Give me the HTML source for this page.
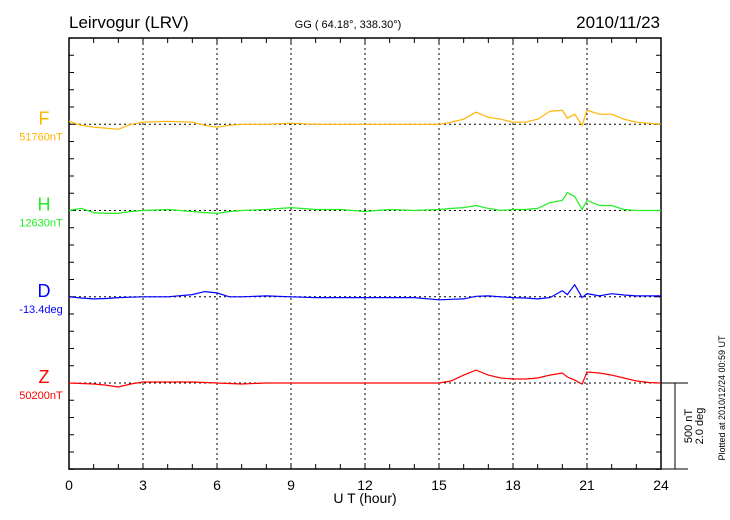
<!DOCTYPE html>
<html><head><meta charset="utf-8"><style>
body{margin:0;background:#fff;}
svg{display:block;font-family:"Liberation Sans",sans-serif;}
</style></head><body>
<svg id="chart" width="730" height="520"></svg>
<script>
const hours=[0,0.5,1,1.5,2,2.5,3,4,5,5.5,6,6.5,7,8,9,10,11,12,13,14,15,15.5,16,16.5,17,17.5,18,18.5,19,19.5,20,20.2,20.5,20.8,21,21.5,22,22.5,23,23.5,24];
const fVals=[17,-6,-17,-23,-29,0,12,17,12,-6,-17,-6,0,0,6,0,0,0,0,0,0,12,29,70,40,29,12,12,29,75,81,35,58,-6,81,58,58,29,12,6,0];
const hVals=[0,12,-12,-17,-17,-6,0,6,-6,-12,-17,-6,0,6,17,6,6,-6,6,0,6,12,17,29,12,0,6,6,12,46,58,104,81,6,58,29,29,6,0,0,0];
const dVals=[0,-0.03,-0.05,-0.04,-0.02,-0.01,0,0,0.05,0.12,0.09,0,0,0.02,0,-0.02,-0.02,-0.02,-0.02,-0.02,-0.07,-0.06,-0.05,0.01,0.02,0,-0.02,-0.03,-0.05,-0.02,0.14,0.05,0.28,-0.02,0.07,0.02,0.07,0.04,0.02,0.02,0.02];
const zVals=[0,-3,-6,-12,-23,-6,6,6,6,3,0,-3,-6,0,0,0,0,0,0,0,0,12,46,75,46,29,23,23,29,46,58,35,17,-6,64,58,46,29,12,3,0];
const xTicks=[0,3,6,9,12,15,18,21,24];
const series=[
 {name:'F',vals:fVals,col:'#ffb400',base:'51760nT',unit:1},
 {name:'H',vals:hVals,col:'#22ee22',base:'12630nT',unit:1},
 {name:'D',vals:dVals,col:'#0000ff',base:'-13.4deg',unit:250},
 {name:'Z',vals:zVals,col:'#ff0000',base:'50200nT',unit:1}];
const X0=69,X1=661,Y0=38,Y1=469,STEP=17.25;
const xs=h=>X0+(X1-X0)*h/24;
const pxPerNT=86.25/500;
const baseY=i=>Y0+STEP*5*(i+1);
const ys=(i,v,u)=>baseY(i)-v*u*pxPerNT;
const svg=document.getElementById('chart');
const NS='http://www.w3.org/2000/svg';
function mk(t,a,txt){const e=document.createElementNS(NS,t);for(const k in a)e.setAttribute(k,a[k]);if(txt!=null)e.textContent=txt;svg.appendChild(e);return e;}
let e;
e=mk('text',{x:69,y:28,'font-size':17},'Leirvogur (LRV)');


e=mk('text',{x:348,y:28,'font-size':11,'text-anchor':'middle'},'GG ( 64.18°, 338.30°)');


e=mk('text',{x:660,y:28,'font-size':17,'text-anchor':'end'},'2010/11/23');


// grid
xTicks.forEach(h=>{if(h>0&&h<24){e=mk('line',{x1:xs(h),x2:xs(h),y1:Y0,y2:Y1,stroke:'#000','stroke-width':1,'stroke-dasharray':'2,3'});

}
e=mk('text',{x:xs(h),y:490,'font-size':14,'text-anchor':'middle'},String(h));

});
for(let h=0;h<=24;h++){mk('line',{x1:xs(h),x2:xs(h),y1:Y0,y2:Y0+5,stroke:'#000'});mk('line',{x1:xs(h),x2:xs(h),y1:Y1,y2:Y1-5,stroke:'#000'});}
for(let k=0;k<=25;k++){const y=Y0+k*STEP;mk('line',{x1:X0,x2:X0+5,y1:y,y2:y,stroke:'#000'});mk('line',{x1:X1,x2:X1-5,y1:y,y2:y,stroke:'#000'});}
e=mk('rect',{x:X0,y:Y0,width:X1-X0,height:Y1-Y0,fill:'none',stroke:'#000','stroke-width':1.5});


series.forEach((s,i)=>{
 e=mk('line',{x1:X0,x2:X1,y1:baseY(i),y2:baseY(i),stroke:'#000','stroke-dasharray':'2,3'});
 
 
 const pts=hours.map((h,j)=>xs(h).toFixed(1)+','+ys(i,s.vals[j],s.unit).toFixed(1)).join(' ');
 e=mk('polyline',{points:pts,fill:'none',stroke:s.col,'stroke-width':1.2});
 
 
 e=mk('text',{x:44,y:baseY(i)+0,'font-size':18,'text-anchor':'middle',fill:s.col},s.name);
 
 
 e=mk('text',{x:41,y:baseY(i)+16,'font-size':11,'text-anchor':'middle',fill:s.col},s.base);
 
 
});
e=mk('text',{x:365,y:503,'font-size':14,'text-anchor':'middle'},'U T (hour)');


// scale bar
mk('line',{x1:X1,x2:688,y1:baseY(3),y2:baseY(3),stroke:'#000'});
e=mk('line',{x1:675,x2:675,y1:baseY(3),y2:Y1,stroke:'#000'});


mk('line',{x1:X1,x2:688,y1:Y1,y2:Y1,stroke:'#000'});
e=mk('text',{x:0,y:0,'font-size':11,'text-anchor':'middle',transform:'translate(692,426) rotate(-90)'},'500 nT');


e=mk('text',{x:0,y:0,'font-size':11,'text-anchor':'middle',transform:'translate(703,426) rotate(-90)'},'2.0 deg');


e=mk('text',{x:0,y:0,'font-size':9,'text-anchor':'middle',transform:'translate(725,398) rotate(-90)'},'Plotted at 2010/12/24 00:59 UT');


</script>
</body></html>
